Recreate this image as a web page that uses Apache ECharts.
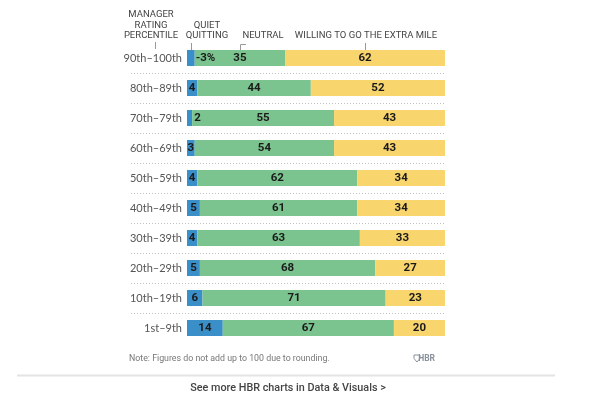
<!DOCTYPE html>
<html>
<head>
<meta charset="utf-8">
<script src="https://cdn.jsdelivr.net/npm/echarts@6/dist/echarts.min.js"></script>
<style>
html,body{margin:0;padding:0;background:#fff;}
#c{width:602px;height:393px;}
</style>
</head>
<body>
<div id="c"></div>
<script>
const categories = ['90th–100th','80th–89th','70th–79th','60th–69th','50th–59th','40th–49th','30th–39th','20th–29th','10th–19th','1st–9th'];
const quietQuitting = [3,4,2,3,4,5,4,5,6,14];
const neutral = [35,44,55,54,62,61,63,68,71,67];
const willing = [62,52,43,43,34,34,33,27,23,20];
const seriesNames = ['QUIET QUITTING','NEUTRAL','WILLING TO GO THE EXTRA MILE'];
const colors = ['#3b8fc8','#7cc48f','#f9d56e'];
const FONT = 'Roboto, "Liberation Sans", sans-serif';
const CAT_FONT = 'Lato, Roboto, sans-serif';

const rowSums = categories.map((c,i)=>quietQuitting[i]+neutral[i]+willing[i]);

function buildData(arr, isQuiet){
  return arr.map((v,i)=>{
    const item = {value: v/rowSums[i]*100, raw: v};
    if(isQuiet){
      if(i===0){
        item.label = {position:'right', distance:1, formatter:'-' + v + '%'};
      } else if(v<=2){
        item.label = {position:'right', distance:2};
      } else {
        item.label = {position:'inside'};
      }
    }
    return item;
  });
}

const chart = echarts.init(document.getElementById('c'), null, {renderer:'canvas'});
const seriesArr = [quietQuitting, neutral, willing].map((arr,k)=>({
  name: seriesNames[k],
  type:'bar',
  stack:'total',
  barWidth:16,
  data: buildData(arr, k===0),
  itemStyle:{color:colors[k]},
  label:{
    show:true,
    position:'inside',
    color:'#1a1a1a',
    fontFamily:FONT,
    fontWeight:'bold',
    fontSize:11.5,
    formatter: p => String(p.data.raw)
  },
  emphasis:{disabled:true},
  animation:false
}));

chart.setOption({
  animation:false,
  grid:{left:187, right:157, top:43, height:300},
  xAxis:{type:'value', min:0, max:100, show:false},
  yAxis:{
    type:'category', data:categories, inverse:true,
    axisLine:{show:false}, axisTick:{show:false}, splitLine:{show:false},
    axisLabel:{color:'#555', fontFamily:CAT_FONT, fontSize:11, margin:5}
  },
  series: seriesArr
});

// annotations positioned from the chart's own scales
const px = (x,i)=>chart.convertToPixel({gridIndex:0},[x,categories[i]]);
const g = [];
const rightEdge = px(100,0)[0];
for(let i=0;i<categories.length-1;i++){
  const y = Math.round((px(0,i)[1]+px(0,i+1)[1])/2)+0.5;
  g.push({type:'line', shape:{x1:131,y1:y,x2:rightEdge,y2:y}, style:{stroke:'#c0c0c0', lineWidth:1, lineDash:[1,2]}, silent:true});
}
const r0 = [quietQuitting[0],neutral[0],willing[0]].map(v=>v/rowSums[0]*100);
const qx = px(r0[0]/2,0)[0];
const nx = px(r0[0]+r0[1]/2,0)[0];
const wx = px(r0[0]+r0[1]+r0[2]/2,0)[0];
const barTop = px(0,0)[1]-8;
const headStyle = {fill:'#444', font:'9.5px '+FONT, textAlign:'center', textVerticalAlign:'middle'};
function txt(t,x,y){ g.push({type:'text', x:x, y:y, style:Object.assign({text:t}, headStyle), silent:true}); }
txt('MANAGER',151,15); txt('RATING',151,25.5); txt('PERCENTILE',151,36);
g.push({type:'line', shape:{x1:155.5,y1:42,x2:155.5,y2:49}, style:{stroke:'#999',lineWidth:1}});
txt('QUIET',207,25.5); txt('QUITTING',207,36);
g.push({type:'polyline', shape:{points:[[Math.round(qx)+0.5,43],[Math.round(qx)+0.5,barTop]]}, style:{stroke:'#999',lineWidth:1,fill:null}});
txt('NEUTRAL',263,36);
g.push({type:'polyline', shape:{points:[[Math.round(nx)+6,44.5],[Math.round(nx)+0.5,44.5],[Math.round(nx)+0.5,barTop]]}, style:{stroke:'#999',lineWidth:1,fill:null}});
txt('WILLING TO GO THE EXTRA MILE',366,36);
g.push({type:'line', shape:{x1:Math.round(wx)+0.5,y1:43,x2:Math.round(wx)+0.5,y2:barTop}, style:{stroke:'#999',lineWidth:1}});
// footer
g.push({type:'text', x:129, y:359, style:{text:'Note: Figures do not add up to 100 due to rounding.', fill:'#777', font:'8.8px '+FONT, textVerticalAlign:'middle'}, silent:true});
g.push({type:'text', x:rightEdge-10, y:359, style:{text:'HBR', fill:'#8a929c', font:'bold 8.5px '+FONT, textAlign:'right', textVerticalAlign:'middle'}, silent:true});
g.push({type:'polygon', shape:{points:[[414,355],[420,355],[420,358.5],[417,362],[414,358.5]]}, style:{fill:null, stroke:'#8a929c', lineWidth:1}});
g.push({type:'line', shape:{x1:17,y1:375.5,x2:555,y2:375.5}, style:{stroke:'#e4e4e4',lineWidth:2}});
g.push({type:'text', x:288, y:388, style:{text:'See more HBR charts in Data & Visuals >', fill:'#444', font:'500 10.8px '+FONT, textAlign:'center', textVerticalAlign:'middle'}, silent:true});
chart.setOption({graphic:{elements:g}});
</script>
</body>
</html>
